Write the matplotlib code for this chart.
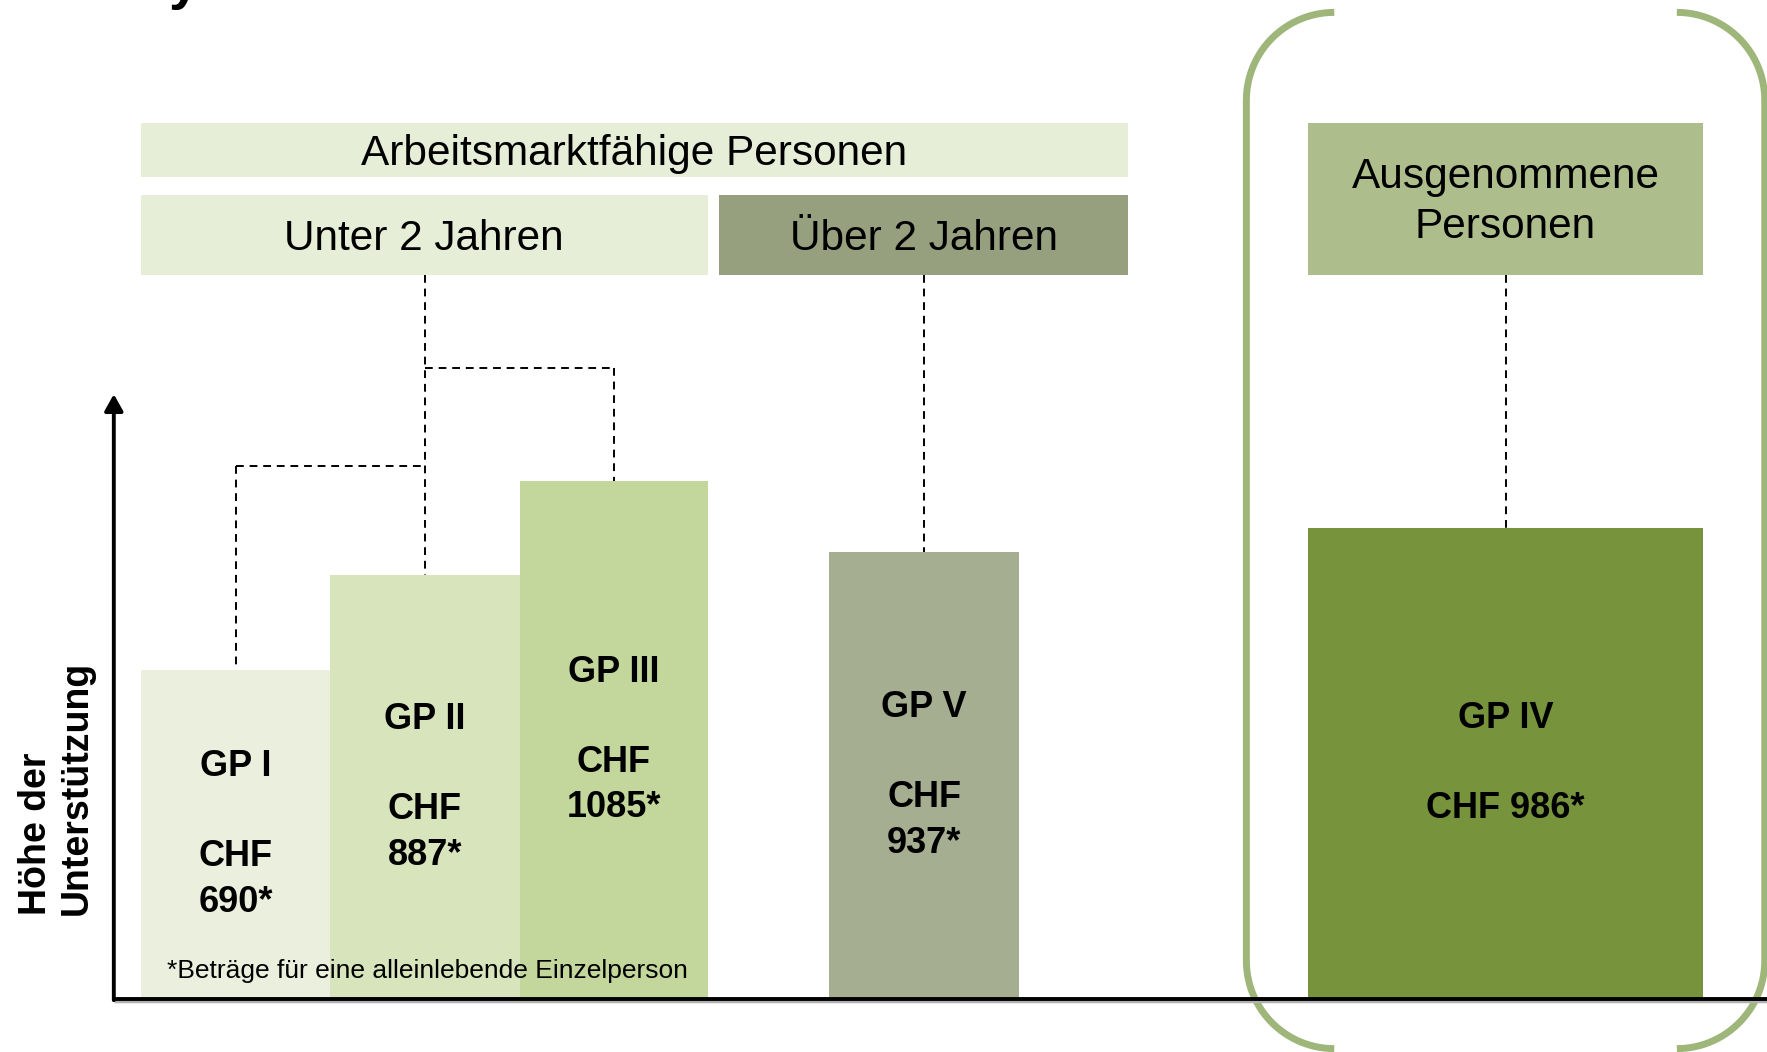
import matplotlib as mpl
mpl.use('Agg')
import matplotlib.pyplot as plt
from matplotlib.patches import Rectangle
import numpy as np

plt.rcParams['font.family'] = ['Liberation Sans', 'DejaVu Sans']

# data
groups = ['GP I', 'GP II', 'GP III', 'GP V', 'GP IV']
amounts = [690, 887, 1085, 937, 986]
bar_colors = ['#ebf0de', '#d8e4bc', '#c3d69b', '#a6ae91', '#77933c']
footnote = '*Beträge für eine alleinlebende Einzelperson'
ylabel = 'Höhe der\nUnterstützung'

# layout (x in layout pixels, y rows in layout pixels from top)
W, H = 1568, 934
BASE = 887          # row of the baseline
SCALE = 0.424       # layout pixels per CHF
bar_left = [125, 293, 461, 736, 1161]
bar_width = [168, 168, 167, 168, 350]


def Y(row):
    # layout row -> data y (CHF)
    return (BASE - row) / SCALE


fig = plt.figure(figsize=(17.67, 10.52), dpi=100)
ax = fig.add_axes([0, 0, 1, 1])
ax.set_xlim(0, W)
ax.set_ylim(Y(H), Y(0))
ax.axis('off')

# bars
ax.bar(bar_left, amounts, width=bar_width, align='edge', color=bar_colors,
       zorder=2)
for g, a, x0, w in zip(groups, amounts, bar_left, bar_width):
    if w > 300:
        lbl = f'{g}\n\nCHF {a}*'
    else:
        lbl = f'{g}\n\nCHF\n{a}*'
    ax.text(x0 + w / 2, a / 2, lbl, ha='center', va='center', fontsize=26,
            fontweight='bold', linespacing=1.38, zorder=4)

# header boxes
def box(x0, x1, r0, r1, color, text, ls=1.2, dy=4):
    ax.add_patch(Rectangle((x0, Y(r1)), x1 - x0, Y(r0) - Y(r1),
                           facecolor=color, edgecolor='none', zorder=2))
    ax.text((x0 + x1) / 2, Y((r0 + r1) / 2 + dy), text, ha='center',
            va='center', fontsize=30.5, linespacing=ls, zorder=3)

box(125, 1001, 109, 157, '#e6eed7', 'Arbeitsmarktfähige Personen')
box(125, 628, 173, 244, '#e6eed7', 'Unter 2 Jahren')
box(638, 1001, 173, 244, '#969f7e', 'Über 2 Jahren')
box(1161, 1511, 109, 244, '#adbe8c', 'Ausgenommene\nPersonen', ls=1.32, dy=3)

# dashed connectors
cx = [x0 + w / 2 for x0, w in zip(bar_left, bar_width)]
dash = dict(color='black', lw=1.4, ls=(0, (4, 3)), zorder=1)
ax.plot([cx[1], cx[1]], [Y(244), amounts[1]], **dash)
ax.plot([cx[0], cx[1]], [Y(414), Y(414)], **dash)
ax.plot([cx[0], cx[0]], [Y(414), amounts[0]], **dash)
ax.plot([cx[1], cx[2]], [Y(327), Y(327)], **dash)
ax.plot([cx[2], cx[2]], [Y(327), amounts[2]], **dash)
ax.plot([cx[3], cx[3]], [Y(244), amounts[3]], **dash)
ax.plot([cx[4], cx[4]], [Y(244), amounts[4]], **dash)

# bracket around the excluded group
r = 78
t = np.linspace(0, np.pi / 2, 30)
for side, xe, xl in [(-1, 1184, 1106), (1, 1488, 1566)]:
    top_x = xe + side * r * np.sin(t)
    top_y = 89 - r * np.cos(t)
    bot_x = xe + side * r * np.cos(t)
    bot_y = 853 + r * np.sin(t)
    xs = np.concatenate([top_x, [xl, xl], bot_x])
    ys = np.concatenate([top_y, [89, 853], bot_y])
    ax.plot(xs, [Y(v) for v in ys], color='#9fb67a', lw=5, zorder=1,
            solid_capstyle='butt')

# axes with shadow
ax.plot([103, W], [Y(BASE + 2), Y(BASE + 2)], color='#b0b0b0', lw=2.5, zorder=4)
ax.plot([101, W], [0, 0], color='black', lw=2.8, zorder=5)
ax.annotate('', xy=(101, Y(350)), xytext=(101, Y(BASE + 1)),
            arrowprops=dict(arrowstyle='-|>,head_length=0.5,head_width=0.28',
                            mutation_scale=20, lw=2.8, color='black',
                            shrinkA=0, shrinkB=0), zorder=5)

ax.text(50, Y(812), ylabel, rotation=90, ha='center', va='bottom',
        multialignment='left', fontsize=27, fontweight='bold', linespacing=1.15)

ax.text(148, Y(862), footnote, ha='left', va='center', fontsize=19, zorder=4)

# cut-off title glyph at the top edge, as in the source slide
ax.text(150, Y(-2), 'y', ha='left', va='baseline', fontsize=40,
        fontweight='bold')

fig.savefig('out.png', dpi=100)
